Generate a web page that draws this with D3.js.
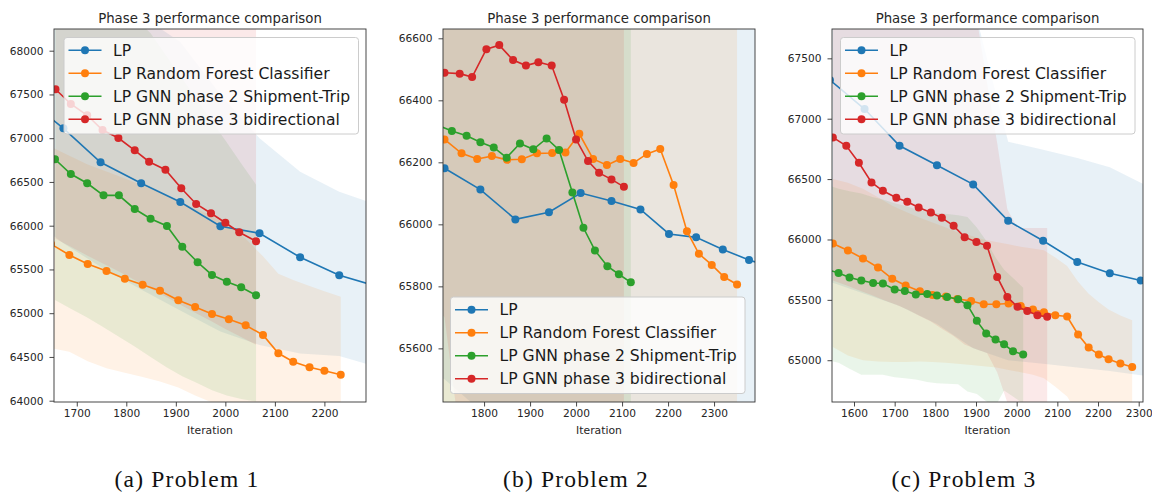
<!DOCTYPE html>
<html>
<head>
<meta charset="utf-8">
<script src="https://cdn.jsdelivr.net/npm/d3@7"></script>
<style>
  body { margin: 0; background: #fff; }
  svg { display: block; }
</style>
</head>
<body>
<script>
// series names + colours (matplotlib tab10)
var seriesNames = ["LP", "LP Random Forest Classifier", "LP GNN phase 2 Shipment-Trip", "LP GNN phase 3 bidirectional"];
var seriesColors = ["#1f77b4", "#ff7f0e", "#2ca02c", "#d62728"];

// ---------------- Problem 1 ----------------
var p1LpIter = [1593, 1673, 1748, 1830, 1909, 1990, 2069, 2151, 2230, 2310];
var p1LpVal  = [67480, 67113, 66725, 66485, 66271, 65993, 65913, 65639, 65433, 65300];
var p1LpHi   = [69000, 68800, 68600, 68400, 68100, 67500, 66999, 66617, 66389, 66230];
var p1LpLo   = [66130, 65800, 65530, 65270, 65030, 64790, 64637, 64540, 64510, 64380];

var p1RfIter = [1648, 1685, 1722, 1760, 1797, 1833, 1868, 1905, 1939, 1973, 2007, 2041, 2076, 2107, 2137, 2170, 2200, 2233];
var p1RfVal  = [65790, 65665, 65563, 65483, 65394, 65326, 65257, 65147, 65071, 64991, 64930, 64862, 64751, 64542, 64446, 64382, 64343, 64297];
var p1RfHi   = [66900, 66800, 66700, 66620, 66540, 66460, 66380, 66280, 66200, 66110, 66000, 65850, 65650, 65450, 65380, 65310, 65250, 65189];
var p1RfLo   = [64600, 64560, 64450, 64370, 64320, 64270, 64220, 64150, 64060, 63980, 63900, 63820, 63740, 63680, 63620, 63570, 63530, 63500];

var p1G2Iter = [1656, 1688, 1721, 1754, 1785, 1817, 1849, 1882, 1913, 1944, 1973, 2003, 2032, 2062];
var p1G2Val  = [66759, 66591, 66485, 66347, 66347, 66191, 66080, 65997, 65760, 65582, 65437, 65360, 65296, 65205];
var p1G2Hi   = [69500, 69200, 68950, 68750, 68550, 68380, 68200, 67930, 67680, 67430, 67190, 66950, 66710, 66469];
var p1G2Lo   = [65150, 65050, 64950, 64840, 64730, 64620, 64500, 64380, 64280, 64199, 64120, 64060, 64020, 63990];

var p1G3Iter = [1657, 1688, 1721, 1752, 1784, 1817, 1846, 1879, 1911, 1941, 1971, 2000, 2028, 2062];
var p1G3Val  = [67559, 67391, 67262, 67094, 67002, 66862, 66731, 66640, 66427, 66248, 66142, 66034, 65925, 65822];
var p1G3Hi   = [69500, 69400, 69300, 69200, 69100, 69000, 68900, 68800, 68700, 68600, 68500, 68450, 68400, 68350];
var p1G3Lo   = [65850, 65760, 65660, 65570, 65480, 65380, 65290, 65190, 65090, 65000, 64910, 64820, 64740, 64640];

var p1XTicks = [1700, 1800, 1900, 2000, 2100, 2200];
var p1YTicks = [64000, 64500, 65000, 65500, 66000, 66500, 67000, 67500, 68000];

// ---------------- Problem 2 ----------------
var p2LpIter = [1650, 1714, 1792, 1868, 1941, 2010, 2077, 2140, 2202, 2261, 2319, 2376, 2440];
var p2LpVal  = [66230, 66181, 66112, 66016, 66039, 66101, 66075, 66048, 65969, 65958, 65919, 65885, 65855];
var p2LpHi   = [67400, 67350, 67300, 67200, 67200, 67250, 67200, 67150, 67100, 67050, 67000, 66950, 66900];
var p2LpLo   = [65550, 65500, 65400, 65300, 65250, 65200, 65200, 65180, 65150, 65150, 65120, 65100, 65100];

var p2RfIter = [1680, 1714, 1751, 1785, 1817, 1850, 1882, 1915, 1948, 1977, 2007, 2037, 2067, 2096, 2125, 2154, 2183, 2212, 2241, 2267, 2295, 2322, 2350];
var p2RfVal  = [66300, 66274, 66229, 66211, 66220, 66208, 66210, 66229, 66230, 66232, 66292, 66211, 66191, 66211, 66198, 66227, 66243, 66127, 65978, 65905, 65869, 65830, 65806];
var p2RfHi   = [67300, 67280, 67230, 67210, 67220, 67210, 67210, 67230, 67230, 67230, 67290, 67210, 67190, 67210, 67200, 67230, 67240, 67130, 66980, 66900, 66870, 66830, 66810];
var p2RfLo   = [65300, 65280, 65250, 65230, 65240, 65230, 65230, 65250, 65250, 65250, 65300, 65230, 65200, 65230, 65220, 65240, 65260, 65150, 65000, 64950, 64900, 64870, 64850];

var p2G2Iter = [1702, 1730, 1762, 1792, 1821, 1849, 1878, 1907, 1936, 1963, 1992, 2016, 2041, 2068, 2093, 2119];
var p2G2Val  = [66318, 66301, 66286, 66265, 66248, 66215, 66261, 66242, 66277, 66240, 66103, 65989, 65916, 65865, 65839, 65813];
var p2G2Hi   = [67200, 67200, 67180, 67160, 67150, 67120, 67160, 67140, 67180, 67140, 67000, 66900, 66820, 66770, 66740, 66720];
var p2G2Lo   = [65300, 65300, 65280, 65260, 65250, 65220, 65260, 65240, 65280, 65240, 65100, 65000, 64920, 64870, 64840, 64810];

var p2G3Iter = [1680, 1714, 1747, 1774, 1805, 1833, 1863, 1891, 1918, 1947, 1974, 2000, 2026, 2050, 2077, 2104];
var p2G3Val  = [66490, 66489, 66486, 66475, 66565, 66578, 66530, 66512, 66523, 66512, 66402, 66274, 66204, 66166, 66145, 66121];
var p2G3Hi   = [67400, 67400, 67400, 67380, 67470, 67480, 67430, 67410, 67420, 67410, 67300, 67180, 67100, 67070, 67050, 67020];
var p2G3Lo   = [65760, 65700, 65320, 65250, 65250, 65250, 65230, 65210, 65220, 65210, 65100, 65000, 64950, 64900, 64880, 64860];

var p2XTicks = [1800, 1900, 2000, 2100, 2200, 2300];
var p2YTicks = [65600, 65800, 66000, 66200, 66400, 66600];

// ---------------- Problem 3 ----------------
var p3LpIter = [1541, 1626, 1712, 1804, 1893, 1979, 2065, 2149, 2229, 2305, 2385];
var p3LpVal  = [67320, 67080, 66776, 66615, 66456, 66154, 65989, 65814, 65721, 65660, 65600];
var p3LpHi   = [68700, 68600, 68400, 68200, 67950, 66810, 66743, 66674, 66599, 66470, 66350];
var p3LpLo   = [65650, 65550, 65450, 65300, 65100, 65000, 64970, 64940, 64910, 64875, 64850];

var p3RfIter = [1548, 1585, 1622, 1659, 1694, 1727, 1762, 1793, 1826, 1854, 1888, 1919, 1950, 1980, 2010, 2040, 2067, 2095, 2124, 2151, 2177, 2202, 2226, 2255, 2284];
var p3RfVal  = [65967, 65909, 65843, 65768, 65674, 65619, 65572, 65541, 65528, 65508, 65491, 65464, 65464, 65470, 65448, 65420, 65398, 65373, 65362, 65213, 65105, 65047, 65008, 64972, 64944];
var p3RfHi   = [66500, 66470, 66420, 66350, 66280, 66230, 66180, 66140, 66100, 66060, 66030, 66000, 65980, 65960, 65940, 65925, 65911, 65850, 65780, 65650, 65550, 65480, 65420, 65370, 65332];
var p3RfLo   = [65110, 65040, 65000, 64990, 64985, 64985, 64990, 64985, 64980, 64970, 64960, 64950, 64940, 64920, 64900, 64880, 64850, 64780, 64700, 64550, 64500, 64460, 64430, 64410, 64400];

var p3G2Iter = [1535, 1562, 1589, 1618, 1647, 1671, 1700, 1725, 1752, 1780, 1804, 1829, 1856, 1879, 1902, 1925, 1948, 1969, 1991, 2016];
var p3G2Val  = [65750, 65723, 65685, 65660, 65640, 65635, 65586, 65574, 65544, 65549, 65536, 65524, 65505, 65456, 65326, 65221, 65171, 65132, 65074, 65047];
var p3G2Hi   = [66450, 66420, 66400, 66380, 66350, 66330, 66300, 66280, 66250, 66230, 66220, 66210, 66200, 66187, 66100, 65990, 65850, 65750, 65680, 65600];
var p3G2Lo   = [65000, 64980, 64930, 64880, 64880, 64880, 64860, 64850, 64840, 64820, 64810, 64805, 64800, 64740, 64720, 64660, 64620, 64750, 64700, 64640];

var p3G3Iter = [1548, 1581, 1612, 1643, 1671, 1704, 1731, 1759, 1789, 1816, 1845, 1872, 1901, 1927, 1952, 1977, 2002, 2026, 2051, 2075];
var p3G3Val  = [66845, 66776, 66635, 66472, 66403, 66345, 66312, 66265, 66224, 66179, 66113, 66019, 65980, 65947, 65690, 65524, 65442, 65408, 65373, 65359];
var p3G3Hi   = [68600, 68550, 68500, 68450, 68400, 68350, 68300, 68250, 68200, 68150, 68100, 68000, 67850, 67300, 66800, 66250, 66094, 66094, 66094, 66094];
var p3G3Lo   = [65660, 65620, 65580, 65540, 65500, 65460, 65420, 65370, 65320, 65260, 65200, 65130, 65090, 65060, 64900, 64650, 64500, 64400, 64350, 64300];

var p3XTicks = [1600, 1700, 1800, 1900, 2000, 2100, 2200, 2300];
var p3YTicks = [65000, 65500, 66000, 66500, 67000, 67500];

// ---------------- layout ----------------
var svgWidth = 1152;
var svgHeight = 495;
var plotTop = 29;
var plotBottom = 402;
var markerR = 4;

var panels = [
  { id: 1, left: 54, right: 366, xDom: [1654, 2284], yDom: [63985, 68248],
    xTicks: p1XTicks, yTicks: p1YTicks, legendX: 64, legendY: 37.5,
    caption: "(a) Problem 1", captionX: 187,
    series: [
      [p1LpIter, p1LpVal, p1LpLo, p1LpHi],
      [p1RfIter, p1RfVal, p1RfLo, p1RfHi],
      [p1G2Iter, p1G2Val, p1G2Lo, p1G2Hi],
      [p1G3Iter, p1G3Val, p1G3Lo, p1G3Hi]
    ] },
  { id: 2, left: 443, right: 755, xDom: [1710.7, 2389], yDom: [65427, 66630],
    xTicks: p2XTicks, yTicks: p2YTicks, legendX: 450.5, legendY: 297,
    caption: "(b) Problem 2", captionX: 576,
    series: [
      [p2LpIter, p2LpVal, p2LpLo, p2LpHi],
      [p2RfIter, p2RfVal, p2RfLo, p2RfHi],
      [p2G2Iter, p2G2Val, p2G2Lo, p2G2Hi],
      [p2G3Iter, p2G3Val, p2G3Lo, p2G3Hi]
    ] },
  { id: 3, left: 832, right: 1143, xDom: [1545.9, 2310.6], yDom: [64654, 67743],
    xTicks: p3XTicks, yTicks: p3YTicks, legendX: 840.5, legendY: 37.5,
    caption: "(c) Problem 3", captionX: 964,
    series: [
      [p3LpIter, p3LpVal, p3LpLo, p3LpHi],
      [p3RfIter, p3RfVal, p3RfLo, p3RfHi],
      [p3G2Iter, p3G2Val, p3G2Lo, p3G2Hi],
      [p3G3Iter, p3G3Val, p3G3Lo, p3G3Hi]
    ] }
];

var svg = d3.select("body")
  .append("svg")
  .attr("width", svgWidth)
  .attr("height", svgHeight);

svg.append("rect").attr("width", svgWidth).attr("height", svgHeight).attr("fill", "#fff");

var defs = svg.append("defs");

function drawPanel(p) {
  var xScale = d3.scaleLinear().domain(p.xDom).range([p.left, p.right]);
  var yScale = d3.scaleLinear().domain(p.yDom).range([plotBottom, plotTop]);

  defs.append("clipPath").attr("id", "clip" + p.id)
    .append("rect")
    .attr("x", p.left).attr("y", plotTop)
    .attr("width", p.right - p.left).attr("height", plotBottom - plotTop);

  var plot = svg.append("g").attr("clip-path", "url(#clip" + p.id + ")");

  var rowsList = p.series.map(function(s) {
    return s[0].map(function(t, k) {
      return { t: t, v: s[1][k], lo: s[2][k], hi: s[3][k] };
    });
  });

  // shaded bands first
  var area = d3.area()
    .x(function(d) { return xScale(d.t); })
    .y0(function(d) { return yScale(d.lo); })
    .y1(function(d) { return yScale(d.hi); });

  rowsList.forEach(function(rows, i) {
    plot.append("path")
      .datum(rows)
      .attr("d", area)
      .attr("fill", seriesColors[i])
      .attr("fill-opacity", 0.1);
  });

  // lines + markers
  var line = d3.line()
    .x(function(d) { return xScale(d.t); })
    .y(function(d) { return yScale(d.v); });

  rowsList.forEach(function(rows, i) {
    plot.append("path")
      .datum(rows)
      .attr("d", line)
      .attr("fill", "none")
      .attr("stroke", seriesColors[i])
      .attr("stroke-width", 1.6);

    plot.selectAll(null)
      .data(rows)
      .enter()
      .append("circle")
      .attr("cx", function(d) { return xScale(d.t); })
      .attr("cy", function(d) { return yScale(d.v); })
      .attr("r", markerR)
      .attr("fill", seriesColors[i]);
  });

  // axes
  var xAxis = svg.append("g")
    .attr("transform", "translate(0," + plotBottom + ")")
    .call(d3.axisBottom(xScale).tickValues(p.xTicks).tickSize(4.5).tickPadding(3).tickFormat(d3.format("d")));
  var yAxis = svg.append("g")
    .attr("transform", "translate(" + p.left + ",0)")
    .call(d3.axisLeft(yScale).tickValues(p.yTicks).tickSize(4.5).tickPadding(6).tickFormat(d3.format("d")));

  [xAxis, yAxis].forEach(function(a) {
    a.select(".domain").remove();
    a.selectAll("line").attr("stroke", "#333").attr("stroke-width", 0.9);
    a.selectAll("text")
      .attr("fill", "#262626")
      .style("font-family", "DejaVu Sans, sans-serif")
      .style("font-size", "10.6px");
  });

  // frame
  svg.append("rect")
    .attr("x", p.left).attr("y", plotTop)
    .attr("width", p.right - p.left).attr("height", plotBottom - plotTop)
    .attr("fill", "none")
    .attr("stroke", "#333")
    .attr("stroke-width", 0.9);

  var mid = (p.left + p.right) / 2;

  svg.append("text")
    .attr("x", mid).attr("y", 22.5)
    .attr("text-anchor", "middle")
    .attr("fill", "#262626")
    .style("font-family", "DejaVu Sans, sans-serif")
    .style("font-size", "13.3px")
    .text("Phase 3 performance comparison");

  svg.append("text")
    .attr("x", mid).attr("y", 434)
    .attr("text-anchor", "middle")
    .attr("fill", "#262626")
    .style("font-family", "DejaVu Sans, sans-serif")
    .style("font-size", "10.8px")
    .text("Iteration");

  // legend
  var legend = svg.append("g").attr("transform", "translate(" + p.legendX + "," + p.legendY + ")");
  legend.append("rect")
    .attr("width", 294.5).attr("height", 96.5)
    .attr("rx", 3)
    .attr("fill", "#fff").attr("fill-opacity", 0.8)
    .attr("stroke", "#cccccc").attr("stroke-width", 1);

  seriesNames.forEach(function(name, i) {
    var rowY = 12.8 + i * 23;
    legend.append("line")
      .attr("x1", 4.5).attr("x2", 37.5)
      .attr("y1", rowY).attr("y2", rowY)
      .attr("stroke", seriesColors[i]).attr("stroke-width", 1.6);
    legend.append("circle")
      .attr("cx", 21).attr("cy", rowY).attr("r", markerR)
      .attr("fill", seriesColors[i]);
    legend.append("text")
      .attr("x", 49).attr("y", rowY)
      .attr("dy", "0.36em")
      .attr("fill", "#1a1a1a")
      .style("font-family", "DejaVu Sans, sans-serif")
      .style("font-size", "15.6px")
      .text(name);
  });

  // sub-figure caption
  svg.append("text")
    .attr("x", p.captionX).attr("y", 487)
    .attr("text-anchor", "middle")
    .attr("fill", "#111")
    .style("font-family", "Liberation Serif, serif")
    .style("font-size", "23.5px")
    .style("letter-spacing", "1.2px")
    .text(p.caption);
}

panels.forEach(drawPanel);
</script>
</body>
</html>
